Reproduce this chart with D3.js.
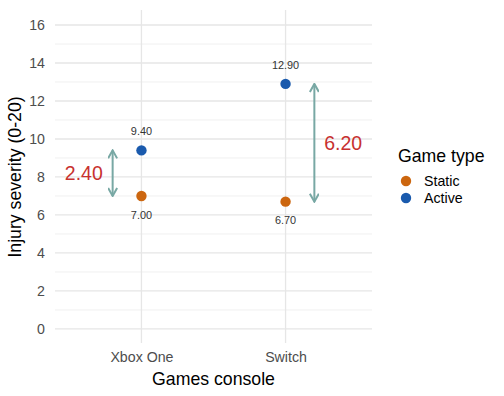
<!DOCTYPE html>
<html>
<head>
<meta charset="utf-8">
<script src="https://cdn.jsdelivr.net/npm/d3@7"></script>
<style>
  body { margin: 0; background: #fff; }
  text { font-family: "Liberation Sans", Arial, sans-serif; }
</style>
</head>
<body>
<svg id="chart" width="504" height="396"></svg>
<script>
// Données
const consoles = ["Xbox One", "Switch"];
const gameTypes = ["Static", "Active"];
const staticValues = [7.0, 6.7];
const activeValues = [9.4, 12.9];
const differences = [2.4, 6.2];
const yTicks = [0, 2, 4, 6, 8, 10, 12, 14, 16];

const svg = d3.select("#chart");

// Zone du graphique
const margin = { top: 10, left: 55, right: 132, bottom: 53 };
const width = 504 - margin.left - margin.right;
const height = 396 - margin.top - margin.bottom;

const g = svg.append("g")
    .attr("transform", `translate(${margin.left}, ${margin.top})`);

// Échelles
const xScale = d3.scalePoint()
    .domain(consoles)
    .range([0, width])
    .padding(0.6);

const yScale = d3.scaleLinear()
    .domain([-0.74, 16.79])
    .range([height, 0]);

const colour = d3.scaleOrdinal()
    .domain(gameTypes)
    .range(["#CC660F", "#1A5AAD"]);

// Grille mineure
g.selectAll(".minor")
    .data(d3.range(1, 17, 2))
    .enter().append("line")
    .attr("x1", 0).attr("x2", width)
    .attr("y1", d => yScale(d)).attr("y2", d => yScale(d))
    .attr("stroke", "#f0f0f0")
    .attr("stroke-width", 1);

// Grille majeure
g.selectAll(".major")
    .data(yTicks)
    .enter().append("line")
    .attr("x1", 0).attr("x2", width)
    .attr("y1", d => yScale(d)).attr("y2", d => yScale(d))
    .attr("stroke", "#e6e6e6")
    .attr("stroke-width", 1.3);

g.selectAll(".vmajor")
    .data(consoles)
    .enter().append("line")
    .attr("x1", d => xScale(d)).attr("x2", d => xScale(d))
    .attr("y1", 0).attr("y2", height)
    .attr("stroke", "#e6e6e6")
    .attr("stroke-width", 1.3);

// Axes (sans lignes)
g.append("g")
    .call(d3.axisLeft(yScale).tickValues(yTicks).tickSize(0).tickPadding(10));
g.append("g")
    .attr("transform", `translate(0, ${height})`)
    .call(d3.axisBottom(xScale).tickSize(0).tickPadding(9));
svg.selectAll(".domain").remove();
svg.selectAll(".tick text")
    .attr("fill", "#4d4d4d")
    .style("font-size", "14.2px")
    .style("font-family", "Liberation Sans, Arial, sans-serif");

// Flèches
const defs = svg.append("defs");
defs.append("marker")
    .attr("id", "head")
    .attr("viewBox", "0 0 10 10")
    .attr("refX", 9).attr("refY", 5)
    .attr("markerWidth", 10).attr("markerHeight", 10)
    .attr("markerUnits", "userSpaceOnUse")
    .attr("orient", "auto-start-reverse")
    .append("path")
    .attr("d", "M1,0.5 L9,5 L1,9.5")
    .attr("fill", "none")
    .attr("stroke", "#78A8A4")
    .attr("stroke-width", 2);

const step = xScale.step();

g.selectAll(".arrow")
    .data(consoles)
    .enter().append("line")
    .attr("x1", (d, i) => xScale(d) + (i === 0 ? -0.2 : 0.2) * step)
    .attr("x2", (d, i) => xScale(d) + (i === 0 ? -0.2 : 0.2) * step)
    .attr("y1", (d, i) => yScale(activeValues[i]))
    .attr("y2", (d, i) => yScale(staticValues[i]))
    .attr("stroke", "#78A8A4")
    .attr("stroke-width", 2)
    .attr("marker-start", "url(#head)")
    .attr("marker-end", "url(#head)");

// Écarts
g.selectAll(".diff")
    .data(consoles)
    .enter().append("text")
    .attr("x", (d, i) => xScale(d) + (i === 0 ? -0.4 : 0.4) * step)
    .attr("y", (d, i) => yScale((activeValues[i] + staticValues[i]) / 2))
    .attr("dy", "0.35em")
    .attr("text-anchor", "middle")
    .attr("fill", "#C8312F")
    .style("font-size", "19.5px")
    .text((d, i) => differences[i].toFixed(2));

// Points
const points = [];
consoles.forEach((c, i) => {
    points.push({ console: c, type: "Static", value: staticValues[i] });
    points.push({ console: c, type: "Active", value: activeValues[i] });
});

g.selectAll(".point")
    .data(points)
    .enter().append("circle")
    .attr("cx", d => xScale(d.console))
    .attr("cy", d => yScale(d.value))
    .attr("r", 5.2)
    .attr("fill", d => colour(d.type));

g.selectAll(".value")
    .data(points)
    .enter().append("text")
    .attr("x", d => xScale(d.console))
    .attr("y", d => yScale(d.value) + (d.type === "Active" ? -19 : 19))
    .attr("dy", "0.35em")
    .attr("text-anchor", "middle")
    .attr("fill", "#333")
    .style("font-size", "10.9px")
    .text(d => d.value.toFixed(2));

// Titres des axes
svg.append("text")
    .attr("x", margin.left + width / 2)
    .attr("y", 385)
    .attr("text-anchor", "middle")
    .attr("fill", "#000")
    .style("font-size", "17.7px")
    .text("Games console");

svg.append("text")
    .attr("transform", `translate(21, ${margin.top + yScale(8)}) rotate(-90)`)
    .attr("text-anchor", "middle")
    .attr("fill", "#000")
    .style("font-size", "17.7px")
    .text("Injury severity (0-20)");

// Légende
const legend = svg.append("g").attr("transform", "translate(398, 0)");
legend.append("text")
    .attr("x", 0).attr("y", 162)
    .attr("fill", "#000")
    .style("font-size", "17.7px")
    .text("Game type");

const items = legend.selectAll(".item")
    .data(gameTypes)
    .enter().append("g")
    .attr("transform", (d, i) => `translate(0, ${181 + i * 17})`);
items.append("circle")
    .attr("cx", 8).attr("cy", 0).attr("r", 5.2)
    .attr("fill", d => colour(d));
items.append("text")
    .attr("x", 26).attr("y", 0).attr("dy", "0.35em")
    .attr("fill", "#000")
    .style("font-size", "14.2px")
    .text(d => d);
</script>
</body>
</html>
